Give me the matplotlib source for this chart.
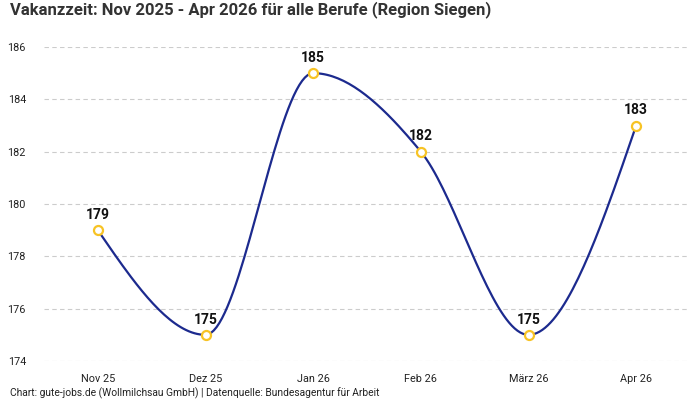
import numpy as np
import matplotlib
matplotlib.use('Agg')
import matplotlib.pyplot as plt

plt.rcParams['font.family'] = ['Roboto', 'DejaVu Sans']

# Data
months = ['Nov 25', 'Dez 25', 'Jan 26', 'Feb 26', 'März 26', 'Apr 26']
vacancy_days = [179, 175, 185, 182, 175, 183]
y_ticks = [174, 176, 178, 180, 182, 184, 186]

title = 'Vakanzzeit: Nov 2025 - Apr 2026 für alle Berufe (Region Siegen)'
footer = 'Chart: gute-jobs.de (Wollmilchsau GmbH) | Datenquelle: Bundesagentur für Arbeit'

line_color = '#1c2a8e'
marker_color = '#f7c325'


def monotone_x(x, y, n=40):
    # d3 curveMonotoneX style tangents, only for drawing the smooth line
    x = np.asarray(x, float)
    y = np.asarray(y, float)
    h = np.diff(x)
    s = np.diff(y) / h
    t = np.zeros(len(x))
    for i in range(1, len(x) - 1):
        p = (s[i - 1] * h[i] + s[i] * h[i - 1]) / (h[i - 1] + h[i])
        t[i] = (np.sign(s[i - 1]) + np.sign(s[i])) * min(abs(s[i - 1]), abs(s[i]), 0.5 * abs(p))
    t[0] = (3 * s[0] - t[1]) / 2
    t[-1] = (3 * s[-1] - t[-2]) / 2
    xs, ys = [], []
    for i in range(len(x) - 1):
        u = np.linspace(0, 1, n)
        h00 = 2 * u**3 - 3 * u**2 + 1
        h10 = u**3 - 2 * u**2 + u
        h01 = -2 * u**3 + 3 * u**2
        h11 = u**3 - u**2
        xs.append(x[i] + u * h[i])
        ys.append(h00 * y[i] + h10 * h[i] * t[i] + h01 * y[i + 1] + h11 * h[i] * t[i + 1])
    return np.concatenate(xs), np.concatenate(ys)


fig = plt.figure(figsize=(7, 4), dpi=100)
ax = fig.add_axes([44 / 700, 1 - 361 / 400, (690 - 44) / 700, (361 - 47) / 400])

xpos = np.arange(len(months))
sx, sy = monotone_x(xpos, vacancy_days)
ax.plot(sx, sy, color=line_color, lw=1.6, zorder=3)
ax.plot(xpos, vacancy_days, 'o', ms=6.5, mfc='white', mec=marker_color, mew=1.6, zorder=4)

for xi, v in zip(xpos, vacancy_days):
    ax.annotate(str(v), (xi, v), xytext=(0, 6), textcoords='offset points',
                ha='center', va='bottom', fontsize=10, fontweight='semibold', color='#111111')

ax.set_xlim(-0.5, len(months) - 0.5)
ax.set_ylim(174, 186)
ax.set_xticks(xpos)
ax.set_xticklabels(months)
ax.set_yticks(y_ticks)
ax.tick_params(length=0, labelsize=7.8, colors='#222222')
ax.tick_params(axis='y', pad=13)
ax.tick_params(axis='x', pad=9)
ax.grid(axis='y', color='#cccccc', lw=0.8, ls=(0, (4, 3)))
ax.set_axisbelow(True)
for sp in ax.spines.values():
    sp.set_visible(False)

fig.text(10 / 700, 1 - 10 / 400, title, fontsize=12, fontweight='bold', color='#333333', va='center', ha='left')
fig.text(10 / 700, 1 - 393 / 400, footer, fontsize=7.4, color='#222222', va='center', ha='left')

fig.savefig('out.png', dpi=100)
